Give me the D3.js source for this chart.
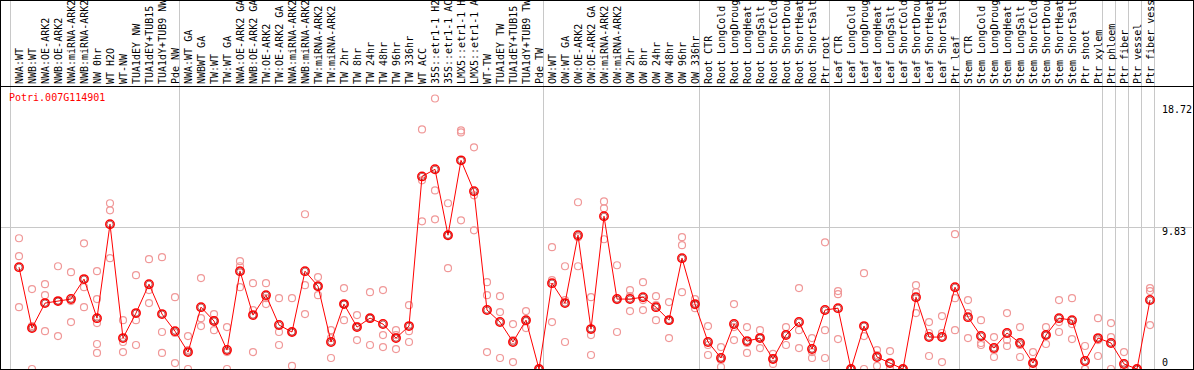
<!DOCTYPE html>
<html><head><meta charset="utf-8">
<script src="https://cdn.jsdelivr.net/npm/d3@7"></script>
<style>
html,body{margin:0;padding:0;background:#fff;}
svg{display:block;}
text{font-family:"DejaVu Sans Mono","Liberation Mono",monospace;font-size:10px;}
</style></head>
<body><svg id="c" width="1194" height="370"></svg>
<script>
const geneId = "Potri.007G114901";
const categories = ["NWA:WT","NWB:WT","NWA:OE-ARK2","NWB:OE-ARK2","NWA:miRNA-ARK2","NWB:miRNA-ARK2","NW 0hr","WT H2O","WT-NW","TUA1dEY NW","TUA1dEY+TUB15","TUA1dY+TUB9 NW","Pde NW",
"NWA:WT GA","NWBWT GA","TW:WT","TW:WT GA","NWA:OE-ARK2 GA","NWB:OE-ARK2 GA","TW:OE-ARK2","TW:OE-ARK2 GA","NWA:miRNA-ARK2","NWB:miRNA-ARK2","TW:miRNA-ARK2","TW:miRNA-ARK2","TW 2hr","TW 8hr","TW 24hr","TW 48hr","TW 96hr","TW 336hr","WT ACC","35S::etr1-1 H2","35S::etr1-1 AC","LMX5::etr1-1 H","LMX5::etr1-1 A","WT-TW","TUA1dEY TW","TUA1dEY+TUB15","TUA1dY+TUB9 TW","Pde TW",
"OW:WT","OW:WT GA","OW:OE-ARK2","OW:OE-ARK2 GA","OW:miRNA-ARK2","OW:miRNA-ARK2","OW 2hr","OW 8hr","OW 24hr","OW 48hr","OW 96hr","OW 336hr",
"Root CTR","Root LongCold","Root LongDroug","Root LongHeat","Root LongSalt","Root ShortCold","Root ShortDrou","Root ShortHeat","Root ShortSalt","Ptr root",
"Leaf CTR","Leaf LongCold","Leaf LongDroug","Leaf LongHeat","Leaf LongSalt","Leaf ShortCold","Leaf ShortDrou","Leaf ShortHeat","Leaf ShortSalt","Ptr leaf",
"Stem CTR","Stem LongCold","Stem LongDroug","Stem LongHeat","Stem LongSalt","Stem ShortCold","Stem ShortDrou","Stem ShortHeat","Stem ShortSalt","Ptr shoot","Ptr xylem",
"Ptr phloem","Ptr fiber","Ptr vessel","Ptr fiber vess"];
const groupStarts = ["NWA:WT","NWA:WT GA","OW:WT","Root CTR","Leaf CTR","Stem CTR","Ptr phloem","Ptr fiber","Ptr vessel","Ptr fiber vess"];
const means = [7.05,2.83,4.56,4.70,4.84,6.22,3.52,10.02,2.14,3.87,5.87,3.80,2.62,
1.17,4.28,3.32,1.31,6.77,3.73,5.11,3.04,2.56,6.77,5.73,1.87,4.49,2.90,3.52,3.11,2.14,2.97,13.33,13.82,9.26,14.44,12.30,4.08,3.25,1.87,3.38,0,
5.94,4.56,9.26,2.76,10.57,4.84,4.84,4.97,4.28,3.38,7.67,4.49,
1.87,0.76,3.11,1.93,2.14,0.69,2.35,3.25,1.38,4.08,
4.21,0,2.97,0.83,0.41,0,4.97,2.21,2.21,5.66,
3.59,2.28,1.45,2.49,1.80,0.41,2.35,3.52,3.38,0.55,2.14,
1.80,0.35,0,4.77];
const replicates = [[9.05,7.81,4.28],[5.53,2.97,0],[5.87,5.11,2.62],[7.11,4.70,2.28],[6.70,4.70,3.25],[8.70,5.66,4.28],[6.77,4.84,3.18,1.73,1.11],[11.47,10.98,7.67],[3.38,1.87,1.17],[6.49,3.38,1.66],[7.60,5.46,4.56],[7.74,2.56,1.11],[4.97,2.49,0.41],
[2.28,1.31,0],[6.29,3.52,2.97],[3.80,3.38,2.69],[2.90,1.17,0],[7.46,7.11,5.66],[5.94,4.08,1.17],[5.94,4.90,4.49],[4.90,2.56,1.66],[4.90,2.56,0.21],[10.71,5.80,3.80],[6.36,5.73,5.11],[2.69,2.14,0.76],[5.60,4.49,3.38],[3.73,2.97,2.00],[5.32,3.52,1.66],[5.46,2.35,1.52],[2.69,2.35,1.38],[4.42,2.62,1.87],[16.58,13.06,10.22],[18.72,12.36,10.36],[11.47,9.26,6.98],[16.51,16.37,10.29],[15.34,12.02,9.60],[6.01,5.11,1.17],[5.04,3.94,0.76],[3.11,2.00,0.48],[4.01,3.32,2.83],[0,0,0],
[8.43,6.15,3.25],[7.11,4.77,1.87],[11.54,9.12,7.11],[4.97,2.35,0.97],[11.60,11.12,8.98],[7.18,4.77,2.56],[5.46,5.04,4.01],[6.01,4.77,4.08],[5.04,4.42,3.38],[4.63,3.38,2.14],[9.12,8.57,5.32],[4.84,4.42,4.21],
[2.97,1.66,0.97],[1.52,0.62,0.14],[4.49,2.90,2.00],[2.90,1.80,1.11],[2.69,2.21,1.45],[1.04,0.69,0.35],[2.90,2.42,1.66],[5.60,2.69,1.45],[2.14,1.17,0.76],[8.77,2.69,0.76],
[5.39,5.18,2.07],[0,0,0],[6.63,2.28,0],[1.31,0.97,0.21],[1.24,0,0],[0,0,0],[5.80,5.32,3.87],[3.25,2.49,0.90],[3.66,2.49,0.48],[9.33,4.90,2.69],
[4.77,3.87,2.14],[3.38,1.80,1.66],[2.21,1.31,0.83],[3.87,2.00,1.59],[2.90,1.66,0.83],[1.17,0.48,0],[2.90,2.35,1.73],[4.77,3.25,2.56],[4.90,3.11,2.07],[1.59,0,0],[3.52,2.00,0.90],
[3.18,2.21,0],[1.17,0,0],[0,0,0],[5.60,5.39,3.04]];
const axisTicks = [18.72, 9.83, 0];
const midLine = 9.83;

const W = 1194, H = 370;
const svg = d3.select("#c");
const idx = d3.range(categories.length);
const x = d3.scaleBand().domain(idx).range([10.5, 1154.5]).padding(0);
const y = d3.scaleLinear().domain([0, 18.72]).range([369, 98.5]);
const cx = i => x(i) + 8.5;

svg.append("rect").attr("width", W).attr("height", H).attr("fill", "#fff");

// mid grid line
svg.append("line").attr("x1", 1).attr("x2", 1192).attr("y1", Math.round(y(midLine)) + 0.5).attr("y2", Math.round(y(midLine)) + 0.5)
  .attr("stroke", "#c8c8c8").attr("stroke-width", 1);

// group separators
const seps = groupStarts.map(g => x(categories.indexOf(g))).concat([x(categories.length - 1) + x.bandwidth()]);
svg.append("g").selectAll("line").data(seps)
  .join("line").attr("x1", d => d).attr("x2", d => d).attr("y1", 0).attr("y2", H)
  .attr("stroke", "#c8c8c8").attr("stroke-width", 1);

// labels area bottom line
svg.append("line").attr("x1", 0).attr("x2", W).attr("y1", 86.5).attr("y2", 86.5).attr("stroke", "#000");

// category labels
svg.append("g").selectAll("text").data(idx).join("text")
  .attr("transform", i => `translate(${x(i) + 12},84) rotate(-90)`)
  .attr("fill", "#000").text(i => categories[i]);

// gene id
svg.append("text").attr("x", 9).attr("y", 101).attr("fill", "#ff0000").text(geneId);

// axis labels
const tickOffsets = [14, 8, -3];
svg.append("g").selectAll("text").data(axisTicks).join("text")
  .attr("x", 1162).attr("y", (d, i) => y(d) + tickOffsets[i]).attr("fill", "#000").text(d => d);

const plot = svg.append("g");
// replicates
const reps = [];
idx.forEach(i => replicates[i].forEach(v => reps.push({i, v})));
plot.append("g").selectAll("circle").data(reps).join("circle")
  .attr("cx", d => cx(d.i)).attr("cy", d => y(d.v)).attr("r", 3.5)
  .attr("fill", "none").attr("stroke", "#f09898").attr("stroke-width", 1.2);

// mean line
const line = d3.line().x((d, i) => cx(i)).y(d => y(d));
plot.append("path").datum(means).attr("d", line).attr("fill", "none").attr("stroke", "#ff0000").attr("stroke-width", 1);

// mean circles
plot.append("g").selectAll("circle").data(means).join("circle")
  .attr("cx", (d, i) => cx(i)).attr("cy", d => y(d)).attr("r", 4.2)
  .attr("fill", "none").attr("stroke", "#ff0000").attr("stroke-width", 1.5);
plot.append("g").selectAll("circle").data(means).join("circle")
  .attr("cx", (d, i) => cx(i)).attr("cy", d => y(d)).attr("r", 3.1)
  .attr("fill", "none").attr("stroke", "#800000").attr("stroke-width", 0.6);

// frame
svg.append("rect").attr("x", 0.5).attr("y", 0.5).attr("width", W - 1).attr("height", H - 1)
  .attr("fill", "none").attr("stroke", "#000");
</script></body></html>
